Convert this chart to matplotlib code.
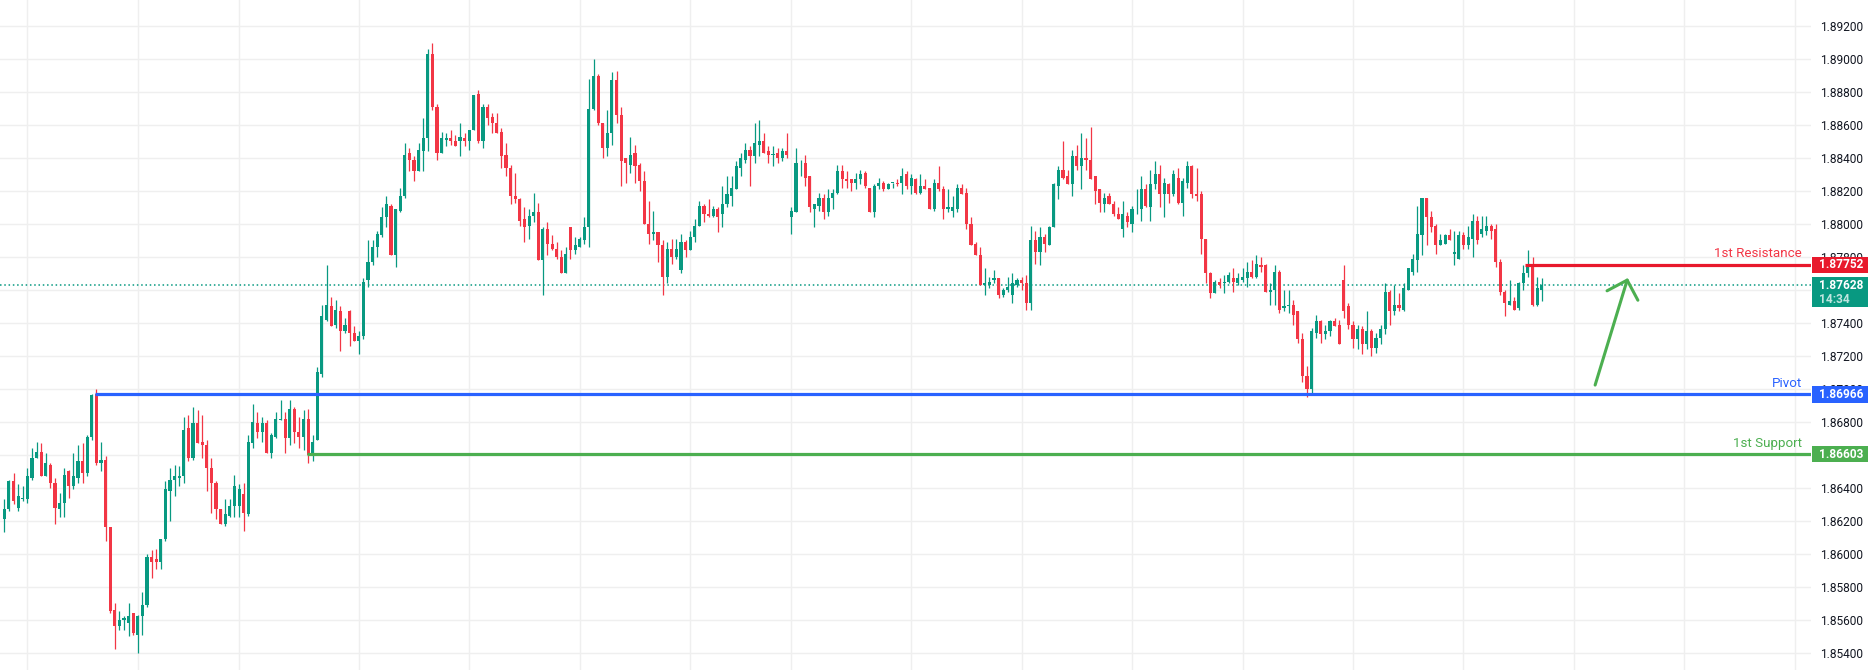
import numpy as np
import matplotlib
matplotlib.use('Agg')
import matplotlib.pyplot as plt
from matplotlib.patches import Rectangle
from matplotlib.transforms import blended_transform_factory
from matplotlib.ticker import FormatStrFormatter

plt.rcParams['font.family'] = ['Roboto', 'DejaVu Sans']

# hourly candles
opens = [
    1.8621, 1.8627, 1.8644, 1.8628, 1.8633, 1.8633, 1.8646, 1.8658, 1.8662, 1.8647,
    1.8654, 1.8643, 1.8627, 1.8631, 1.8650, 1.8641, 1.8646, 1.8656, 1.8649, 1.8671,
    1.8697, 1.8655, 1.8657, 1.8616, 1.8566, 1.8556, 1.8560, 1.8558, 1.8564, 1.8551,
    1.8562, 1.8569, 1.8598, 1.8597, 1.8595, 1.8609, 1.8638, 1.8645, 1.8646, 1.8647,
    1.8676, 1.8658, 1.8679, 1.8668, 1.8666, 1.8652, 1.8643, 1.8627, 1.8618, 1.8623,
    1.8629, 1.8629, 1.8636, 1.8624, 1.8667, 1.8679, 1.8674, 1.8679, 1.8661, 1.8671,
    1.8681, 1.8682, 1.8670, 1.8688, 1.8674, 1.8671, 1.8682, 1.8660, 1.8669, 1.8709,
    1.8742, 1.8750, 1.8739, 1.8747, 1.8735, 1.8747, 1.8734, 1.8729, 1.8732, 1.8766,
    1.8777, 1.8786, 1.8793, 1.8804, 1.8811, 1.8781, 1.8808, 1.8817, 1.8843, 1.8839,
    1.8832, 1.8844, 1.8852, 1.8903, 1.8871, 1.8843, 1.8851, 1.8852, 1.8850, 1.8850,
    1.8852, 1.8850, 1.8857, 1.8879, 1.8850, 1.8871, 1.8865, 1.8861, 1.8856, 1.8842,
    1.8834, 1.8817, 1.8815, 1.8803, 1.8799, 1.8805, 1.8807, 1.8778, 1.8797, 1.8788,
    1.8785, 1.8780, 1.8770, 1.8798, 1.8784, 1.8786, 1.8790, 1.8798, 1.8870, 1.8890,
    1.8861, 1.8846, 1.8855, 1.8887, 1.8866, 1.8840, 1.8836, 1.8843, 1.8836, 1.8826,
    1.8800, 1.8794, 1.8795, 1.8787, 1.8768, 1.8785, 1.8780, 1.8772, 1.8789, 1.8784,
    1.8792, 1.8799, 1.8811, 1.8806, 1.8805, 1.8809, 1.8806, 1.8812, 1.8817, 1.8821,
    1.8834, 1.8839, 1.8845, 1.8841, 1.8848, 1.8850, 1.8844, 1.8842, 1.8843, 1.8840,
    1.8844, 1.8804, 1.8807, 1.8837, 1.8837, 1.8829, 1.8809, 1.8811, 1.8816, 1.8807,
    1.8816, 1.8819, 1.8832, 1.8827, 1.8827, 1.8825, 1.8827, 1.8831, 1.8822, 1.8807,
    1.8823, 1.8825, 1.8821, 1.8825, 1.8825, 1.8825, 1.8830, 1.8823, 1.8827, 1.8819,
    1.8823, 1.8822, 1.8809, 1.8825, 1.8821, 1.8809, 1.8808, 1.8809, 1.8822, 1.8819,
    1.8800, 1.8788, 1.8781, 1.8763, 1.8763, 1.8766, 1.8767, 1.8757, 1.8760, 1.8757,
    1.8763, 1.8766, 1.8764, 1.8752, 1.8790, 1.8783, 1.8792, 1.8787, 1.8798, 1.8823,
    1.8833, 1.8829, 1.8824, 1.8841, 1.8835, 1.8840, 1.8839, 1.8829, 1.8821, 1.8812,
    1.8817, 1.8812, 1.8806, 1.8797, 1.8805, 1.8800, 1.8809, 1.8809, 1.8821, 1.8810,
    1.8824, 1.8830, 1.8818, 1.8824, 1.8818, 1.8828, 1.8813, 1.8825, 1.8835, 1.8818,
    1.8818, 1.8791, 1.8770, 1.8758, 1.8765, 1.8764, 1.8765, 1.8767, 1.8764, 1.8766,
    1.8767, 1.8771, 1.8768, 1.8775, 1.8775, 1.8759, 1.8760, 1.8771, 1.8749, 1.8750,
    1.8751, 1.8747, 1.8730, 1.8708, 1.8700, 1.8734, 1.8741, 1.8733, 1.8735, 1.8741,
    1.8739, 1.8766, 1.8750, 1.8739, 1.8730, 1.8736, 1.8727, 1.8735, 1.8725, 1.8731,
    1.8736, 1.8759, 1.8747, 1.8751, 1.8748, 1.8760, 1.8771, 1.8778, 1.8793, 1.8816,
    1.8804, 1.8799, 1.8787, 1.8788, 1.8793, 1.8782, 1.8779, 1.8793, 1.8787, 1.8791,
    1.8802, 1.8794, 1.8796, 1.8799, 1.8797, 1.8777, 1.8759, 1.8751, 1.8753, 1.8749,
    1.8764, 1.8770, 1.8775, 1.8751, 1.8760,
]
highs = [
    1.8633, 1.8645, 1.8649, 1.8642, 1.8641, 1.8652, 1.8664, 1.8668, 1.8667, 1.8661,
    1.8655, 1.8646, 1.8637, 1.8652, 1.8651, 1.8661, 1.8666, 1.8667, 1.8672, 1.8697,
    1.8700, 1.8668, 1.8659, 1.8616, 1.8570, 1.8565, 1.8562, 1.8570, 1.8564, 1.8563,
    1.8577, 1.8600, 1.8602, 1.8603, 1.8609, 1.8644, 1.8652, 1.8654, 1.8653, 1.8683,
    1.8684, 1.8689, 1.8687, 1.8684, 1.8669, 1.8658, 1.8644, 1.8627, 1.8633, 1.8633,
    1.8648, 1.8642, 1.8643, 1.8672, 1.8691, 1.8686, 1.8683, 1.8681, 1.8673, 1.8686,
    1.8693, 1.8686, 1.8693, 1.8689, 1.8683, 1.8687, 1.8688, 1.8672, 1.8713, 1.8751,
    1.8775, 1.8756, 1.8754, 1.8750, 1.8743, 1.8748, 1.8738, 1.8735, 1.8767, 1.8790,
    1.8790, 1.8796, 1.8810, 1.8817, 1.8812, 1.8809, 1.8822, 1.8849, 1.8846, 1.8841,
    1.8849, 1.8864, 1.8906, 1.8910, 1.8873, 1.8856, 1.8855, 1.8857, 1.8854, 1.8861,
    1.8855, 1.8857, 1.8878, 1.8881, 1.8873, 1.8873, 1.8867, 1.8867, 1.8858, 1.8849,
    1.8836, 1.8831, 1.8816, 1.8810, 1.8809, 1.8819, 1.8813, 1.8798, 1.8801, 1.8793,
    1.8789, 1.8784, 1.8786, 1.8798, 1.8792, 1.8792, 1.8804, 1.8888, 1.8900, 1.8891,
    1.8861, 1.8869, 1.8892, 1.8893, 1.8871, 1.8840, 1.8853, 1.8848, 1.8837, 1.8832,
    1.8814, 1.8808, 1.8795, 1.8790, 1.8789, 1.8791, 1.8791, 1.8794, 1.8790, 1.8796,
    1.8803, 1.8814, 1.8812, 1.8815, 1.8811, 1.8810, 1.8823, 1.8829, 1.8829, 1.8838,
    1.8843, 1.8849, 1.8847, 1.8861, 1.8863, 1.8855, 1.8847, 1.8847, 1.8846, 1.8846,
    1.8855, 1.8810, 1.8846, 1.8839, 1.8842, 1.8829, 1.8812, 1.8819, 1.8818, 1.8821,
    1.8821, 1.8836, 1.8836, 1.8832, 1.8827, 1.8831, 1.8833, 1.8832, 1.8822, 1.8824,
    1.8828, 1.8826, 1.8825, 1.8825, 1.8827, 1.8834, 1.8832, 1.8830, 1.8828, 1.8830,
    1.8827, 1.8822, 1.8827, 1.8835, 1.8823, 1.8821, 1.8817, 1.8824, 1.8824, 1.8822,
    1.8804, 1.8789, 1.8786, 1.8773, 1.8768, 1.8772, 1.8767, 1.8761, 1.8768, 1.8770,
    1.8767, 1.8768, 1.8769, 1.8799, 1.8796, 1.8798, 1.8794, 1.8799, 1.8825, 1.8835,
    1.8850, 1.8833, 1.8845, 1.8848, 1.8855, 1.8852, 1.8859, 1.8829, 1.8821, 1.8819,
    1.8819, 1.8814, 1.8810, 1.8814, 1.8807, 1.8811, 1.8821, 1.8829, 1.8824, 1.8833,
    1.8838, 1.8836, 1.8828, 1.8825, 1.8833, 1.8834, 1.8828, 1.8838, 1.8836, 1.8834,
    1.8820, 1.8791, 1.8771, 1.8766, 1.8767, 1.8769, 1.8771, 1.8773, 1.8770, 1.8773,
    1.8777, 1.8778, 1.8781, 1.8780, 1.8776, 1.8764, 1.8775, 1.8772, 1.8760, 1.8760,
    1.8754, 1.8747, 1.8734, 1.8714, 1.8737, 1.8745, 1.8742, 1.8739, 1.8742, 1.8743,
    1.8742, 1.8775, 1.8752, 1.8741, 1.8739, 1.8738, 1.8747, 1.8736, 1.8734, 1.8739,
    1.8764, 1.8760, 1.8763, 1.8758, 1.8764, 1.8773, 1.8782, 1.8811, 1.8816, 1.8816,
    1.8808, 1.8800, 1.8794, 1.8794, 1.8797, 1.8796, 1.8796, 1.8795, 1.8799, 1.8806,
    1.8805, 1.8805, 1.8805, 1.8800, 1.8800, 1.8779, 1.8760, 1.8766, 1.8756, 1.8765,
    1.8775, 1.8784, 1.8780, 1.8768, 1.8767,
]
lows = [
    1.8613, 1.8626, 1.8630, 1.8626, 1.8632, 1.8631, 1.8645, 1.8658, 1.8647, 1.8647,
    1.8640, 1.8618, 1.8622, 1.8622, 1.8634, 1.8639, 1.8643, 1.8643, 1.8647, 1.8669,
    1.8654, 1.8650, 1.8608, 1.8564, 1.8542, 1.8554, 1.8554, 1.8550, 1.8551, 1.8540,
    1.8551, 1.8568, 1.8585, 1.8591, 1.8591, 1.8608, 1.8620, 1.8635, 1.8641, 1.8643,
    1.8656, 1.8657, 1.8667, 1.8658, 1.8638, 1.8625, 1.8621, 1.8618, 1.8617, 1.8622,
    1.8622, 1.8622, 1.8614, 1.8623, 1.8664, 1.8670, 1.8668, 1.8661, 1.8658, 1.8670,
    1.8681, 1.8661, 1.8666, 1.8667, 1.8664, 1.8663, 1.8655, 1.8656, 1.8669, 1.8707,
    1.8741, 1.8738, 1.8737, 1.8723, 1.8734, 1.8726, 1.8729, 1.8721, 1.8730, 1.8762,
    1.8775, 1.8780, 1.8792, 1.8798, 1.8781, 1.8774, 1.8807, 1.8816, 1.8832, 1.8826,
    1.8832, 1.8832, 1.8844, 1.8869, 1.8839, 1.8843, 1.8847, 1.8848, 1.8847, 1.8841,
    1.8847, 1.8845, 1.8857, 1.8849, 1.8846, 1.8860, 1.8855, 1.8855, 1.8834, 1.8829,
    1.8812, 1.8813, 1.8799, 1.8789, 1.8791, 1.8801, 1.8778, 1.8757, 1.8781, 1.8784,
    1.8779, 1.8770, 1.8770, 1.8779, 1.8782, 1.8786, 1.8788, 1.8786, 1.8869, 1.8860,
    1.8840, 1.8841, 1.8848, 1.8861, 1.8823, 1.8825, 1.8831, 1.8825, 1.8820, 1.8800,
    1.8788, 1.8790, 1.8777, 1.8757, 1.8764, 1.8776, 1.8779, 1.8770, 1.8780, 1.8784,
    1.8789, 1.8799, 1.8801, 1.8804, 1.8804, 1.8795, 1.8798, 1.8810, 1.8811, 1.8821,
    1.8829, 1.8837, 1.8823, 1.8837, 1.8841, 1.8843, 1.8837, 1.8835, 1.8837, 1.8838,
    1.8840, 1.8794, 1.8807, 1.8829, 1.8823, 1.8807, 1.8798, 1.8808, 1.8803, 1.8805,
    1.8809, 1.8818, 1.8822, 1.8822, 1.8820, 1.8821, 1.8824, 1.8822, 1.8807, 1.8804,
    1.8821, 1.8820, 1.8821, 1.8822, 1.8823, 1.8818, 1.8821, 1.8818, 1.8818, 1.8818,
    1.8821, 1.8809, 1.8808, 1.8820, 1.8803, 1.8807, 1.8804, 1.8807, 1.8818, 1.8797,
    1.8787, 1.8781, 1.8763, 1.8757, 1.8761, 1.8764, 1.8755, 1.8756, 1.8759, 1.8752,
    1.8762, 1.8760, 1.8748, 1.8748, 1.8776, 1.8775, 1.8783, 1.8787, 1.8798, 1.8815,
    1.8827, 1.8824, 1.8817, 1.8833, 1.8821, 1.8833, 1.8827, 1.8812, 1.8807, 1.8807,
    1.8812, 1.8805, 1.8803, 1.8792, 1.8798, 1.8795, 1.8806, 1.8802, 1.8810, 1.8802,
    1.8821, 1.8810, 1.8804, 1.8813, 1.8817, 1.8812, 1.8805, 1.8822, 1.8816, 1.8814,
    1.8782, 1.8764, 1.8755, 1.8758, 1.8761, 1.8758, 1.8764, 1.8759, 1.8763, 1.8765,
    1.8762, 1.8767, 1.8767, 1.8771, 1.8759, 1.8751, 1.8751, 1.8746, 1.8747, 1.8746,
    1.8739, 1.8728, 1.8704, 1.8695, 1.8697, 1.8731, 1.8728, 1.8730, 1.8732, 1.8738,
    1.8727, 1.8743, 1.8736, 1.8725, 1.8724, 1.8721, 1.8724, 1.8720, 1.8722, 1.8727,
    1.8733, 1.8739, 1.8745, 1.8747, 1.8747, 1.8760, 1.8769, 1.8771, 1.8781, 1.8787,
    1.8795, 1.8782, 1.8787, 1.8788, 1.8790, 1.8775, 1.8779, 1.8785, 1.8785, 1.8780,
    1.8788, 1.8792, 1.8793, 1.8791, 1.8774, 1.8757, 1.8744, 1.8751, 1.8748, 1.8748,
    1.8760, 1.8768, 1.8750, 1.8750, 1.8753,
]
closes = [
    1.8627, 1.8644, 1.8632, 1.8635, 1.8634, 1.8647, 1.8658, 1.8662, 1.8647, 1.8655,
    1.8643, 1.8628, 1.8631, 1.8648, 1.8641, 1.8647, 1.8656, 1.8649, 1.8671, 1.8696,
    1.8655, 1.8657, 1.8616, 1.8565, 1.8556, 1.8560, 1.8561, 1.8562, 1.8552, 1.8562,
    1.8569, 1.8598, 1.8595, 1.8595, 1.8609, 1.8639, 1.8645, 1.8647, 1.8647, 1.8675,
    1.8658, 1.8679, 1.8667, 1.8666, 1.8652, 1.8643, 1.8627, 1.8618, 1.8624, 1.8629,
    1.8641, 1.8639, 1.8625, 1.8668, 1.8680, 1.8674, 1.8679, 1.8661, 1.8672, 1.8682,
    1.8682, 1.8670, 1.8688, 1.8674, 1.8671, 1.8682, 1.8660, 1.8668, 1.8710, 1.8744,
    1.8751, 1.8738, 1.8748, 1.8735, 1.8739, 1.8734, 1.8729, 1.8732, 1.8765, 1.8777,
    1.8786, 1.8794, 1.8804, 1.8812, 1.8781, 1.8809, 1.8817, 1.8842, 1.8839, 1.8832,
    1.8845, 1.8852, 1.8903, 1.8871, 1.8843, 1.8852, 1.8852, 1.8850, 1.8847, 1.8853,
    1.8850, 1.8857, 1.8878, 1.8850, 1.8871, 1.8864, 1.8861, 1.8855, 1.8841, 1.8834,
    1.8817, 1.8815, 1.8802, 1.8798, 1.8805, 1.8807, 1.8778, 1.8797, 1.8788, 1.8785,
    1.8780, 1.8770, 1.8782, 1.8784, 1.8787, 1.8791, 1.8798, 1.8870, 1.8890, 1.8861,
    1.8846, 1.8855, 1.8887, 1.8866, 1.8838, 1.8837, 1.8842, 1.8835, 1.8826, 1.8800,
    1.8794, 1.8795, 1.8787, 1.8768, 1.8785, 1.8780, 1.8785, 1.8789, 1.8784, 1.8792,
    1.8799, 1.8811, 1.8806, 1.8805, 1.8809, 1.8804, 1.8812, 1.8818, 1.8822, 1.8835,
    1.8840, 1.8845, 1.8841, 1.8849, 1.8850, 1.8843, 1.8842, 1.8842, 1.8840, 1.8844,
    1.8842, 1.8808, 1.8837, 1.8837, 1.8828, 1.8810, 1.8812, 1.8816, 1.8807, 1.8816,
    1.8819, 1.8832, 1.8827, 1.8826, 1.8825, 1.8827, 1.8830, 1.8823, 1.8807, 1.8823,
    1.8825, 1.8821, 1.8824, 1.8825, 1.8824, 1.8829, 1.8823, 1.8828, 1.8819, 1.8823,
    1.8821, 1.8809, 1.8825, 1.8821, 1.8809, 1.8810, 1.8810, 1.8822, 1.8818, 1.8800,
    1.8787, 1.8781, 1.8763, 1.8764, 1.8765, 1.8767, 1.8757, 1.8760, 1.8762, 1.8764,
    1.8766, 1.8764, 1.8752, 1.8790, 1.8783, 1.8792, 1.8788, 1.8798, 1.8824, 1.8833,
    1.8828, 1.8824, 1.8841, 1.8835, 1.8840, 1.8839, 1.8827, 1.8820, 1.8813, 1.8816,
    1.8812, 1.8806, 1.8803, 1.8806, 1.8801, 1.8809, 1.8809, 1.8821, 1.8811, 1.8824,
    1.8830, 1.8818, 1.8825, 1.8818, 1.8830, 1.8813, 1.8826, 1.8835, 1.8818, 1.8817,
    1.8791, 1.8770, 1.8758, 1.8765, 1.8763, 1.8765, 1.8769, 1.8765, 1.8767, 1.8768,
    1.8771, 1.8768, 1.8776, 1.8774, 1.8759, 1.8760, 1.8771, 1.8748, 1.8750, 1.8751,
    1.8745, 1.8730, 1.8708, 1.8700, 1.8735, 1.8741, 1.8733, 1.8735, 1.8741, 1.8738,
    1.8727, 1.8747, 1.8739, 1.8730, 1.8736, 1.8727, 1.8735, 1.8725, 1.8731, 1.8736,
    1.8759, 1.8747, 1.8751, 1.8749, 1.8761, 1.8773, 1.8779, 1.8794, 1.8816, 1.8804,
    1.8798, 1.8787, 1.8790, 1.8793, 1.8790, 1.8783, 1.8793, 1.8787, 1.8792, 1.8802,
    1.8790, 1.8797, 1.8799, 1.8796, 1.8777, 1.8759, 1.8752, 1.8753, 1.8748, 1.8764,
    1.8770, 1.8775, 1.8751, 1.8761, 1.8763,
]

# session boundaries (candle index) used for the vertical grid
day_lines = [5, 29, 51, 77, 101, 125, 149, 171, 197, 221, 245, 269, 293, 317, 341, 365, 389]
price_ticks = np.arange(1.854, 1.8925, 0.002)

resistance = 1.87752
pivot = 1.86966
support = 1.86603
last_price = 1.87628
countdown = '14:34'

# candle index where each level line starts
res_start = 330.4
piv_start = 19.6
sup_start = 65.7

# arrow (candle index, price)
arrow_tail = (345.6, 1.87023)
arrow_tip = (352.7, 1.87672)

GREEN = '#089981'
RED = '#f23645'
RES_COLOR = '#e8192c'
PIV_COLOR = '#2962ff'
SUP_COLOR = '#4caf50'

W, H = 1874, 670
PLOT_W = 1811
PX = 0.00006064  # price per pixel

fig = plt.figure(figsize=(W / 100, H / 100), dpi=100)
fig.patch.set_facecolor('white')
ax = fig.add_axes([0, 0, PLOT_W / W, 1])

o = np.array(opens)
h = np.array(highs)
l = np.array(lows)
c = np.array(closes)
x = np.arange(len(o))
colors = np.where(c >= o, GREEN, RED)

ax.vlines(x, l, h, colors=colors, linewidth=0.9, zorder=3)
body_h = np.maximum(np.abs(c - o), 0.00002)
ax.bar(x, body_h, bottom=np.minimum(o, c), width=0.68, color=colors, linewidth=0, zorder=4)

xmax = -0.94 + PLOT_W / 4.603
ax.set_xlim(-0.94, xmax)
ax.set_ylim(1.89358 - H * PX, 1.89358)

# grid
ax.set_xticks(day_lines)
ax.set_yticks(price_ticks)
ax.grid(True, color='#efefef', linewidth=1, zorder=0)
ax.set_axisbelow(True)
for s in ax.spines.values():
    s.set_visible(False)
ax.tick_params(axis='x', length=0, labelbottom=False)
ax.yaxis.tick_right()
ax.yaxis.set_major_formatter(FormatStrFormatter('%.5f'))
ax.tick_params(axis='y', length=0, pad=6.5, labelsize=8.6, labelcolor='#131722')

# current price dotted line
ax.axhline(last_price, color=GREEN, linewidth=1.1, linestyle=(0, (1, 1.8)), zorder=2)

# level lines
ax.hlines(resistance, res_start, xmax, color=RES_COLOR, linewidth=2.3, zorder=6)
ax.hlines(pivot, piv_start, xmax, color=PIV_COLOR, linewidth=2.3, zorder=6)
ax.hlines(support, sup_start, xmax, color=SUP_COLOR, linewidth=2.3, zorder=6)

for lvl, name, col in [(resistance, '1st Resistance', RED),
                       (pivot, 'Pivot', PIV_COLOR),
                       (support, '1st Support', SUP_COLOR)]:
    ax.annotate(name, xy=(1802 / PLOT_W, lvl), xycoords=('axes fraction', 'data'),
                xytext=(0, 5.5), textcoords='offset points', ha='right', va='baseline',
                fontsize=9.6, color=col, zorder=7)

# price boxes on the scale
trans = blended_transform_factory(fig.transFigure, ax.transData)


def price_box(y_top, y_bot, color):
    ax.add_patch(Rectangle((1812 / W, y_bot), 56 / W, y_top - y_bot, transform=trans,
                           facecolor=color, edgecolor='none', clip_on=False, zorder=10))


def box_text(y, txt, color='white', alpha=1.0):
    ax.text(1819 / W, y, txt, transform=trans, ha='left', va='center', fontsize=8.6,
            fontweight='bold', color=color, alpha=alpha, clip_on=False, zorder=11)


price_box(resistance + 8 * PX, resistance - 8 * PX, RES_COLOR)
box_text(resistance, f'{resistance:.5f}')
price_box(last_price + 8 * PX, last_price - 22 * PX, GREEN)
box_text(last_price, f'{last_price:.5f}')
box_text(last_price - 14 * PX, countdown, alpha=0.75)
price_box(pivot + 8.5 * PX, pivot - 8.5 * PX, PIV_COLOR)
box_text(pivot, f'{pivot:.5f}')
price_box(support + 8 * PX, support - 8 * PX, SUP_COLOR)
box_text(support, f'{support:.5f}')

# green arrow
ax.annotate('', xy=arrow_tip, xytext=arrow_tail,
            arrowprops=dict(arrowstyle='->,head_length=0.58,head_width=0.58',
                            color=SUP_COLOR, lw=2.2, mutation_scale=20,
                            shrinkA=0, shrinkB=0, capstyle='round', joinstyle='round'),
            zorder=8)

fig.savefig('out.png', dpi=100, facecolor='white')
